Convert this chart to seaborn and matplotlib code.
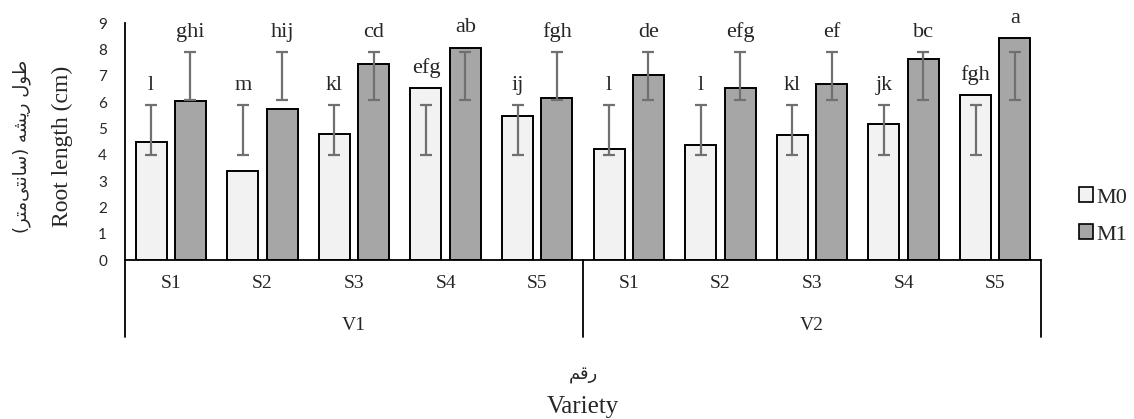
import numpy as np
import pandas as pd
import matplotlib
matplotlib.use("Agg")
import matplotlib.pyplot as plt
import seaborn as sns
from matplotlib.patches import Patch

# ---- data ---------------------------------------------------------------
varieties = ["V1", "V2"]
salinity = ["S1", "S2", "S3", "S4", "S5"]
treatments = ["M0", "M1"]

m0_values = [4.50, 3.38, 4.79, 6.53, 5.46, 4.22, 4.37, 4.74, 5.16, 6.26]
m1_values = [6.03, 5.73, 7.45, 8.07, 6.17, 7.03, 6.55, 6.70, 7.63, 8.44]

m0_letters = ["l", "m", "kl", "efg", "ij", "l", "l", "kl", "jk", "fgh"]
m1_letters = ["ghi", "hij", "cd", "ab", "fgh", "de", "efg", "ef", "bc", "a"]

# error bar extents (lower end, upper end) for each bar
m0_err_low = [4.0, 4.0, 4.0, 4.0, 4.0, 4.0, 4.0, 4.0, 4.0, 4.0]
m0_err_high = [5.9, 5.9, 5.9, 5.9, 5.9, 5.9, 5.9, 5.9, 5.9, 5.9]
m1_err_low = [6.1, 6.1, 6.1, 6.1, 6.1, 6.1, 6.1, 6.1, 6.1, 6.1]
m1_err_high = [7.9, 7.9, 7.9, 7.9, 7.9, 7.9, 7.9, 7.9, 7.9, 7.9]

yticks = [0, 1, 2, 3, 4, 5, 6, 7, 8, 9]


# ---- Persian text helper: glyphs are given in logical order using
# presentation forms, then laid out right-to-left for matplotlib ----------
def rtl(s):
    mirror = {"(": ")", ")": "("}
    return "".join(mirror.get(c, c) for c in reversed(s))


# طول ریشه (سانتی‌متر)
ylabel_fa = rtl("\uFEC3\uFEEE\uFEDD \uFEAD\uFEF3\uFEB8\uFEEA "
                "(\uFEB3\uFE8E\uFEE7\uFE98\uFEF0\uFEE3\uFE98\uFEAE)")
# رقم
xlabel_fa = rtl("\uFEAD\uFED7\uFEE2")

# ---- long-form table ----------------------------------------------------
groups = [f"{v}-{s}" for v in varieties for s in salinity]
df = pd.DataFrame({
    "group": groups * 2,
    "treatment": ["M0"] * len(groups) + ["M1"] * len(groups),
    "length": m0_values + m1_values,
})

sns.set_style("white")
serif = ["Liberation Serif", "DejaVu Sans"]

fig = plt.figure(figsize=(11.34, 4.19), dpi=100)
W, H = 1134, 419
ax = fig.add_axes([125 / W, (H - 260) / H, (1041 - 125) / W, (260 - 23.3) / H])

palette = {"M0": "#f2f2f2", "M1": "#a6a6a6"}
sns.barplot(data=df, x="group", y="length", hue="treatment",
            order=groups, hue_order=treatments, palette=palette,
            width=0.86, gap=0.21, edgecolor="black", linewidth=1.4,
            errorbar=None, legend=False, ax=ax)

ax.set_xlim(-0.5, len(groups) - 0.5)
ax.set_ylim(0, 9)
ax.set_yticks(yticks)
ax.set_yticklabels([str(t) for t in yticks], family="Lato", fontsize=11)
ax.tick_params(axis="y", direction="inout", length=12, width=1.2,
               color="black", pad=7)

ax.set_xticks(range(len(groups)))
ax.set_xticklabels(salinity * len(varieties), family=serif, fontsize=14)
ax.tick_params(axis="x", length=0, pad=11)
ax.set_xlabel("")
ax.set_ylabel("")

for side in ("top", "right"):
    ax.spines[side].set_visible(False)
for side in ("left", "bottom"):
    ax.spines[side].set_color("black")
    ax.spines[side].set_linewidth(1.3)

# error bars and letters
err_lo = {"M0": m0_err_low, "M1": m1_err_low}
err_hi = {"M0": m0_err_high, "M1": m1_err_high}
letters = {"M0": m0_letters, "M1": m1_letters}
for container, trt in zip(ax.containers, treatments):
    xs = [r.get_x() + r.get_width() / 2 for r in container]
    tops = [r.get_height() for r in container]
    lo = np.array(err_lo[trt])
    hi = np.array(err_hi[trt])
    ax.errorbar(xs, lo, yerr=[np.zeros_like(lo), hi - lo], fmt="none",
                ecolor="#707070", elinewidth=1.6, capsize=4.2,
                capthick=1.6, zorder=5)
    for x, top, h, lab in zip(xs, tops, hi, letters[trt]):
        ax.annotate(lab, xy=(x, max(top, h)), xytext=(0, 11),
                    textcoords="offset points", ha="center", va="baseline",
                    family=serif, fontsize=16, annotation_clip=False)

# category axis: separators and variety labels
trans = ax.get_xaxis_transform()
drop = 77 / (260 - 23.3)
for xb in (-0.5, 4.5, 9.5):
    ax.plot([xb, xb], [0, -drop], transform=trans, color="black",
            lw=1.3, clip_on=False)
for i, v in enumerate(varieties):
    xc = i * len(salinity) + (len(salinity) - 1) / 2
    ax.annotate(v, xy=(xc, 0), xycoords=trans, xytext=(0, -65 * 0.72),
                textcoords="offset points", ha="center", va="center",
                family=serif, fontsize=14)

# axis titles
fig.text(62 / W, 1 - 146 / H, "Root length (cm)", rotation=90,
         ha="center", va="center", family=serif, fontsize=17)
fig.text(22 / W, 1 - 146 / H, ylabel_fa, rotation=90,
         ha="center", va="center", family=["DejaVu Sans"], fontsize=13)
fig.text(583 / W, 1 - 375 / H, xlabel_fa, ha="center", va="center",
         family=["DejaVu Sans"], fontsize=13)
fig.text(583 / W, 1 - 407 / H, "Variety", ha="center", va="center",
         family=serif, fontsize=18)

# legend
handles = [Patch(facecolor=palette[t], edgecolor="black", linewidth=1.2)
           for t in treatments]
fig.legend(handles, treatments, loc="center left",
           bbox_to_anchor=(1079 / W, 1 - 216 / H), frameon=False,
           prop={"family": serif, "size": 16}, handlelength=0.65,
           handleheight=0.65, handletextpad=0.15, labelspacing=0.75,
           borderpad=0, borderaxespad=0)

fig.savefig("out.png", dpi=100)
